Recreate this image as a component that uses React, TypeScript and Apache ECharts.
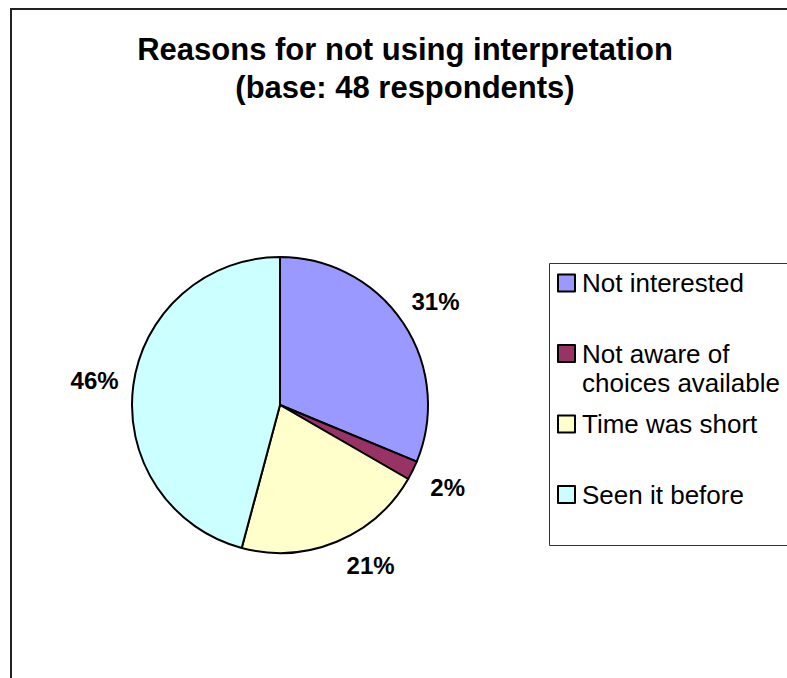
import React, { useEffect, useRef } from "react";
import * as echarts from "echarts";

const titleLines = ["Reasons for not using interpretation", "(base: 48 respondents)"];
const categories = ["Not interested", "Not aware of\nchoices available", "Time was short", "Seen it before"];
const counts = [15, 1, 10, 22];
const colors = ["#9999FF", "#993366", "#FFFFCC", "#CCFFFF"];
const legendLineCounts = [1, 2, 1, 1];

const FONT = "'Liberation Sans', Arial, Helvetica, sans-serif";

export default function App() {
  const ref = useRef<HTMLDivElement>(null);

  useEffect(() => {
    document.body.style.margin = "0";
    if (!ref.current) return;
    const chart = echarts.init(ref.current, null, { renderer: "svg" });

    const LH = 29;
    const labelStyle = {
      fontFamily: FONT,
      fontSize: 24,
      fontWeight: "bold",
      color: "#000",
      formatter: (p: any) => Math.round(p.percent) + "%",
    };

    // slice index 2 (21%) is labelled from the main pie (outside); others from the label ring
    const outsideLabelIdx = 2;

    const pieData = categories.map((name, i) => ({
      name,
      value: counts[i],
      itemStyle: { color: colors[i] },
      label: { show: i === outsideLabelIdx },
    }));

    const ringData = categories.map((name, i) => ({
      name,
      value: counts[i],
      label: { show: i !== outsideLabelIdx },
    }));

    const option = {
      animation: false,
      backgroundColor: "#ffffff",
      title: {
        text: titleLines.join("\n"),
        left: 405,
        top: 30,
        textAlign: "center",
        textVerticalAlign: "top",
        padding: 0,
        textStyle: {
          fontFamily: FONT,
          fontSize: 31,
          fontWeight: "bold",
          color: "#000",
          lineHeight: 38,
        },
      },
      legend: {
        orient: "vertical",
        left: 557,
        top: 283 - 1.5 * LH,
        padding: 0,
        itemGap: 70.5 - 3 * LH,
        itemWidth: 17,
        itemHeight: 17,
        icon: "rect",
        selectedMode: false,
        itemStyle: { borderColor: "#000", borderWidth: 2 },
        textStyle: {
          fontFamily: FONT,
          fontSize: 26,
          color: "#000",
          lineHeight: LH,
          rich: { n: { fontFamily: FONT, fontSize: 26, lineHeight: LH } },
        },
        data: categories.map((name, i) => ({
          name,
          textStyle: {
            padding: legendLineCounts[i] === 2 ? [LH, 0, 0, 2] : [LH, 0, LH, 2],
          },
        })),
      },
      graphic: [
        {
          type: "rect",
          shape: { x: 11, y: 9, width: 1000, height: 1000 },
          style: { fill: "none", stroke: "#222", lineWidth: 2 },
          silent: true,
        },
        {
          type: "rect",
          shape: { x: 549.5, y: 263.5, width: 400, height: 282 },
          style: { fill: "none", stroke: "#333", lineWidth: 1 },
          silent: true,
        },
      ],
      series: [
        {
          type: "pie",
          center: [280, 405],
          radius: 148,
          startAngle: 90,
          clockwise: true,
          silent: true,
          avoidLabelOverlap: false,
          label: { ...labelStyle, position: "outside", distanceToLabelLine: 0 },
          labelLine: { show: false, length: 26, length2: 0 },
          itemStyle: { borderColor: "#000", borderWidth: 2 },
          data: pieData,
        },
        {
          type: "pie",
          center: [280, 405],
          radius: [162, 206],
          startAngle: 90,
          clockwise: true,
          silent: true,
          avoidLabelOverlap: false,
          itemStyle: { color: "rgba(0,0,0,0)", borderWidth: 0 },
          labelLine: { show: false },
          label: { ...labelStyle, position: "inside" },
          data: ringData,
        },
      ],
    };

    chart.setOption(option as any);
    return () => chart.dispose();
  }, []);

  return (
    <div
      ref={ref}
      style={{ position: "absolute", left: 0, top: 0, width: 787, height: 678 }}
    />
  );
}
